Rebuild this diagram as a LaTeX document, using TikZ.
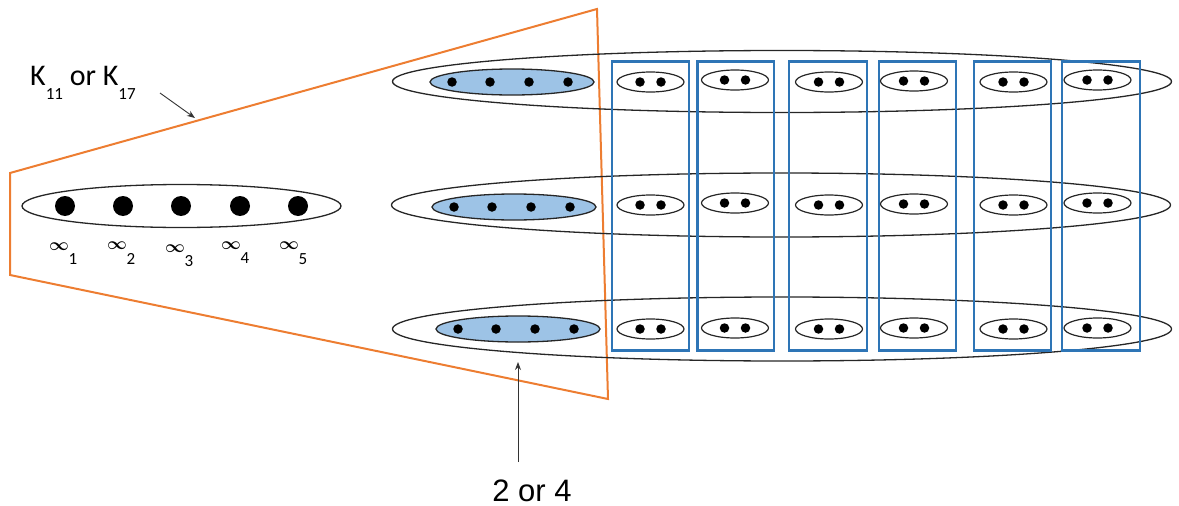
\documentclass[tikz,border=0pt]{standalone}
\usepackage{fontspec}
\setmainfont{Carlito}
\newfontfamily\arialfont{Liberation Sans}
\usetikzlibrary{shapes.geometric,arrows.meta}
\definecolor{accorange}{HTML}{ED7D31}
\definecolor{accblue}{HTML}{2E75B6}
\definecolor{lightfill}{HTML}{9DC3E6}
\tikzset{
  bigring/.style={draw=black!85, line width=1.3pt, ellipse, inner sep=0pt, minimum width=779pt, minimum height=63pt},
  setring/.style={draw=black!85, line width=1.3pt, ellipse, fill=lightfill, inner sep=0pt, minimum width=164pt, minimum height=26pt},
  pairring/.style={draw=black!85, line width=1.2pt, ellipse, inner sep=0pt, minimum width=67pt, minimum height=20pt},
  bigdot/.style={circle, fill=black, inner sep=0pt, minimum size=20pt},
  smalldot/.style={circle, fill=black, inner sep=0pt, minimum size=9.5pt},
  colbox/.style={draw=accblue, line width=2.8pt, rectangle, inner sep=0pt, minimum height=289pt},
  hull/.style={draw=accorange, line width=2pt, line join=miter},
  pointer/.style={draw=black!80, line width=0.9pt, -{Stealth[length=8pt,width=6pt]}},
  inflabel/.style={inner sep=0pt, font=\fontsize{18}{18}\selectfont\boldmath},
  sublabel/.style={inner sep=0pt, font=\fontsize{17}{17}\selectfont},
}
\begin{document}
\begin{tikzpicture}[x=1pt,y=-1pt]
\useasboundingbox (0,0) rectangle (1179,506);

% the orange hull around the left group
\coordinate (h1) at (10,173);
\coordinate (h2) at (597,9);
\coordinate (h3) at (608,399);
\coordinate (h4) at (10,275);
\draw[hull] (h1) -- (h2) -- (h3) -- (h4) -- cycle;

% left group with its five points
\node[draw=black!85, line width=1.3pt, ellipse, inner sep=0pt, minimum width=319pt, minimum height=43pt] (lgroup) at (181.5,206) {};
\foreach \x [count=\i] in {65,123,181,240,298} {
  \node[bigdot] (p\i) at (\x,206) {};
}
\foreach \x/\y/\sx/\sy [count=\i] in {59/247/73/259, 117/246/131/259, 175/249/189/261, 231/246/245/258, 289/246/303/259} {
  \node[inflabel] (inf\i) at (\x,\y) {$\infty$};
  \node[sublabel] (infsub\i) at (\sx,\sy) {\i};
}

% three long rows
\node[bigring, minimum height=62pt] (row1) at (782,81.5) {};
\node[bigring, minimum height=64pt] (row2) at (781,205) {};
\node[bigring, minimum height=64pt] (row3) at (782,329) {};

% blue columns
\foreach \l/\r [count=\i] in {612/689, 697.5/774, 789/867, 879/956, 974/1051, 1062/1140} {
  \node[colbox, minimum width={\r-\l}] (col\i) at ({(\l+\r)/2},206) {};
}

% shaded four-point sets
\foreach \cx/\cy/\xa/\xb/\xc/\xd [count=\i] in {512/82/452/490/529/568, 514/207/454/492/531/570, 518/329/458/496/535/574} {
  \node[setring] (set\i) at (\cx,\cy) {};
  \foreach \x [count=\j] in {\xa,\xb,\xc,\xd} {
    \node[smalldot] (s\i-\j) at (\x,\cy) {};
  }
}

% pairs inside the columns
\foreach \x/\ya/\yb/\yc [count=\c] in {650.5/82/205/329, 735/80/203/328, 829/82/205/329, 914/81/204/328, 1013.5/82/205/329, 1097.5/80/203/328} {
  \foreach \y [count=\r] in {\ya,\yb,\yc} {
    \node[pairring] (pr\r-\c) at (\x,\y) {};
    \node[smalldot] (pa\r-\c) at (\x-10.5,\y) {};
    \node[smalldot] (pb\r-\c) at (\x+10.5,\y) {};
  }
}

% labels and pointers
\node[anchor=base west, inner sep=0pt, font=\fontsize{30}{30}\selectfont] (klabel) at (30,85)
  {K\raisebox{-14pt}{\fontsize{17}{17}\selectfont 11} or K\raisebox{-14pt}{\fontsize{17}{17}\selectfont 17}};
\coordinate (kfrom) at (160,93);
\coordinate (kto) at (195,118);
\draw[pointer] (kfrom) -- (kto);

\node[anchor=base, inner sep=0pt, font=\arialfont\fontsize{31}{31}\selectfont] (sizelabel) at (532,501) {2 or 4};
\coordinate (sfrom) at (518,462);
\coordinate (sto) at (518,362);
\draw[pointer] (sfrom) -- (sto);
\end{tikzpicture}
\end{document}
